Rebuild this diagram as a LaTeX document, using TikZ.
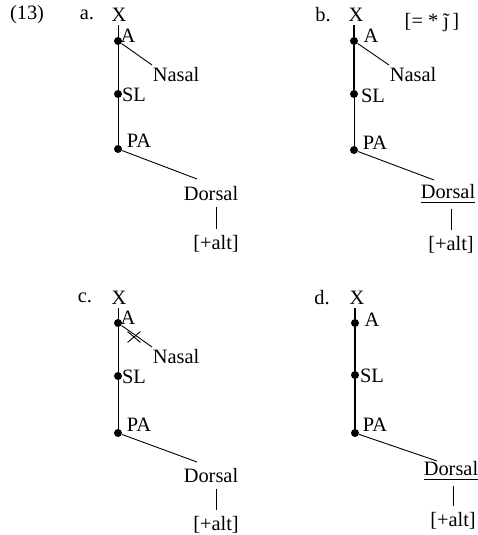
\documentclass[tikz,border=0pt]{standalone}
\usepackage{fontspec}
\setmainfont{Liberation Serif}
\usetikzlibrary{calc,shapes.misc}
\tikzset{dot/.style={circle,fill,inner sep=0pt,minimum size=4pt},lbl/.style={inner sep=1.5pt},ln/.style={line width=0.45pt},thk/.style={line width=1pt},med/.style={line width=0.75pt}}
\newcommand\jtil{{\ooalign{\j\cr\hidewidth\char"02DC\hidewidth\cr}}}

\begin{document}
\begin{tikzpicture}[x=0.5pt,y=-0.5pt,font=\fontsize{10.2}{12}\selectfont]
\useasboundingbox(0,0)rectangle(477,535);
% (a)
\node[lbl](num)at(27,15){(13)};
\node[lbl](aL)at(87,15){a.};
\node[lbl](aX)at(119,15){X};
\node[dot](aA)at(118,41){};
\node[dot](aSL)at(118,94){};
\node[dot](aPA)at(118,149){};
\node[lbl](aAt)at(128,36){A};
\node[lbl](aSLt)at(134,95){SL};
\node[lbl](aPAt)at(139,141){PA};
\node[lbl](aNas)at(176,75){Nasal};
\node[lbl](aDor)at(211,194){Dorsal};
\node[lbl](aAlt)at(216,244){[+alt]};
% (b)
\node[lbl](bL)at(323,15){b.};
\node[lbl](bX)at(356,15){X};
\node[lbl](bStar)at(432,22){[= * \jtil\,]};
\node[dot](bA)at(354,41){};
\node[dot](bSL)at(354,94){};
\node[dot](bPA)at(354,150){};
\node[lbl](bAt)at(371,36){A};
\node[lbl](bSLt)at(373,96){SL};
\node[lbl](bPAt)at(375,143){PA};
\node[lbl](bNas)at(413,75){Nasal};
\node[lbl](bDor)at(448,194){\underline{Dorsal}};
\node[lbl](bAlt)at(451,245){[+alt]};
% (c)
\node[lbl](cL)at(85,298){c.};
\node[lbl](cX)at(119,298){X};
\node[dot](cA)at(118,323){};
\node[dot](cSL)at(118,376){};
\node[dot](cPA)at(118,433){};
\node[lbl](cAt)at(128,318){A};
\node[lbl](cSLt)at(134,377){SL};
\node[lbl](cPAt)at(139,425){PA};
\node[lbl](cNas)at(176,357){Nasal};
\node[lbl](cDor)at(211,476){Dorsal};
\node[lbl](cAlt)at(216,525){[+alt]};
\node[draw,cross out,ln,inner sep=0pt,minimum width=6pt,minimum height=5pt](cCut)at(134,337){};
% (d)
\node[lbl](dL)at(322,298){d.};
\node[lbl](dX)at(357,298){X};
\node[dot](dA)at(355,323){};
\node[dot](dSL)at(355,375){};
\node[dot](dPA)at(355,433){};
\node[lbl](dAt)at(372,320){A};
\node[lbl](dSLt)at(372,376){SL};
\node[lbl](dPAt)at(375,425){PA};
\node[lbl](dDor)at(451,471){\underline{Dorsal}};
\node[lbl](dAlt)at(453,521){[+alt]};
% stems
\foreach\p in{a,c}{\draw[ln](\p X.south -| \p A)--(\p A)--(\p SL)--(\p PA);}
\draw[thk](bX.south -| bA)--(bA)--(bSL);
\draw[ln](bSL)--(bPA);
\draw[med](dX.south -| dA)--(dA)--(dSL)--(dPA);
% branches
\foreach\p in{a,b,c}\draw[ln](\p A)--($(\p Nas)+(-24,-10)$);
\foreach\p/\o in{a/-15,b/-14,c/-14,d/-10}\draw[ln](\p PA)--($(\p Dor)+(-14,\o)$);
\foreach\p in{a,b,c,d}\draw[ln,shorten <=1pt,shorten >=1.5pt](\p Dor.south -| \p Alt.north)--(\p Alt.north);
\end{tikzpicture}
\end{document}
